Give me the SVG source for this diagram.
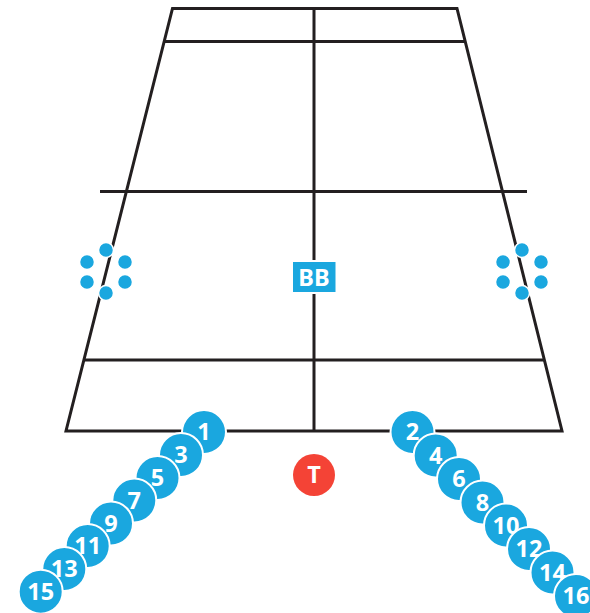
<svg xmlns="http://www.w3.org/2000/svg" width="590" height="613" viewBox="0 0 590 613">
<style>
.l{fill:none;stroke:#231f20;stroke-width:3;stroke-linecap:butt;stroke-linejoin:miter}
.p{fill:#1aa7df;stroke:#fff;stroke-width:2}
.d{fill:#1aa7df;stroke:#fff;stroke-width:1.5}
.t{font-family:"Noto Sans","Open Sans",sans-serif;font-weight:700;font-size:23.500px;fill:#fff;text-anchor:middle}
</style>
<rect width="590" height="613" fill="#fff"/>
<g id="connectors">
<path class="l" d="M66 431H562L457 8.500H172.500Z"/>
<path class="l" d="M164 41.500H465M100 191.500H527M85 360H545M314 8V431"/>
</g>
<g id="bb"><rect x="292" y="261" width="44.500" height="32" fill="#1aa7df" stroke="#fff" stroke-width="2"/><text class="t" x="314" y="286">BB</text></g>
<g id="left-dots"><circle class="d" cx="106" cy="250" r="7.500"/><circle class="d" cx="87" cy="262" r="7.500"/><circle class="d" cx="125" cy="262" r="7.500"/><circle class="d" cx="87" cy="282" r="7.500"/><circle class="d" cx="125" cy="282" r="7.500"/><circle class="d" cx="106" cy="293" r="7.500"/></g>
<g id="right-dots"><circle class="d" cx="522" cy="250" r="7.500"/><circle class="d" cx="503" cy="262" r="7.500"/><circle class="d" cx="541" cy="262" r="7.500"/><circle class="d" cx="503" cy="282" r="7.500"/><circle class="d" cx="541" cy="282" r="7.500"/><circle class="d" cx="522" cy="293" r="7.500"/></g>
<g id="t"><circle cx="314" cy="475" r="21" fill="#f44336"/><text class="t" x="314" y="483.300">T</text></g>
<g id="n1"><circle class="p" cx="204" cy="432" r="22"/><text class="t" x="204" y="440.300">1</text></g>
<g id="n3"><circle class="p" cx="181" cy="455" r="22"/><text class="t" x="181" y="463.300">3</text></g>
<g id="n5"><circle class="p" cx="157.500" cy="478" r="22"/><text class="t" x="157.500" y="486.300">5</text></g>
<g id="n7"><circle class="p" cx="134.300" cy="500.500" r="22"/><text class="t" x="134.300" y="508.800">7</text></g>
<g id="n9"><circle class="p" cx="111" cy="523.500" r="22"/><text class="t" x="111" y="531.800">9</text></g>
<g id="n11"><circle class="p" cx="87.700" cy="546" r="22"/><text class="t" x="87.700" y="554.300">11</text></g>
<g id="n13"><circle class="p" cx="64.300" cy="569" r="22"/><text class="t" x="64.300" y="577.300">13</text></g>
<g id="n15"><circle class="p" cx="40.700" cy="591.700" r="22"/><text class="t" x="40.700" y="600">15</text></g>
<g id="n2"><circle class="p" cx="412.500" cy="432" r="22"/><text class="t" x="412.500" y="440.300">2</text></g>
<g id="n4"><circle class="p" cx="435.700" cy="455.500" r="22"/><text class="t" x="435.700" y="463.800">4</text></g>
<g id="n6"><circle class="p" cx="459" cy="479" r="22"/><text class="t" x="459" y="487.300">6</text></g>
<g id="n8"><circle class="p" cx="482.500" cy="502.500" r="22"/><text class="t" x="482.500" y="510.800">8</text></g>
<g id="n10"><circle class="p" cx="506" cy="525.500" r="22"/><text class="t" x="506" y="533.800">10</text></g>
<g id="n12"><circle class="p" cx="529" cy="549" r="22"/><text class="t" x="529" y="557.300">12</text></g>
<g id="n14"><circle class="p" cx="552.500" cy="572.500" r="22"/><text class="t" x="552.500" y="580.800">14</text></g>
<g id="n16"><circle class="p" cx="576" cy="596" r="22"/><text class="t" x="576" y="604.300">16</text></g>
</svg>
